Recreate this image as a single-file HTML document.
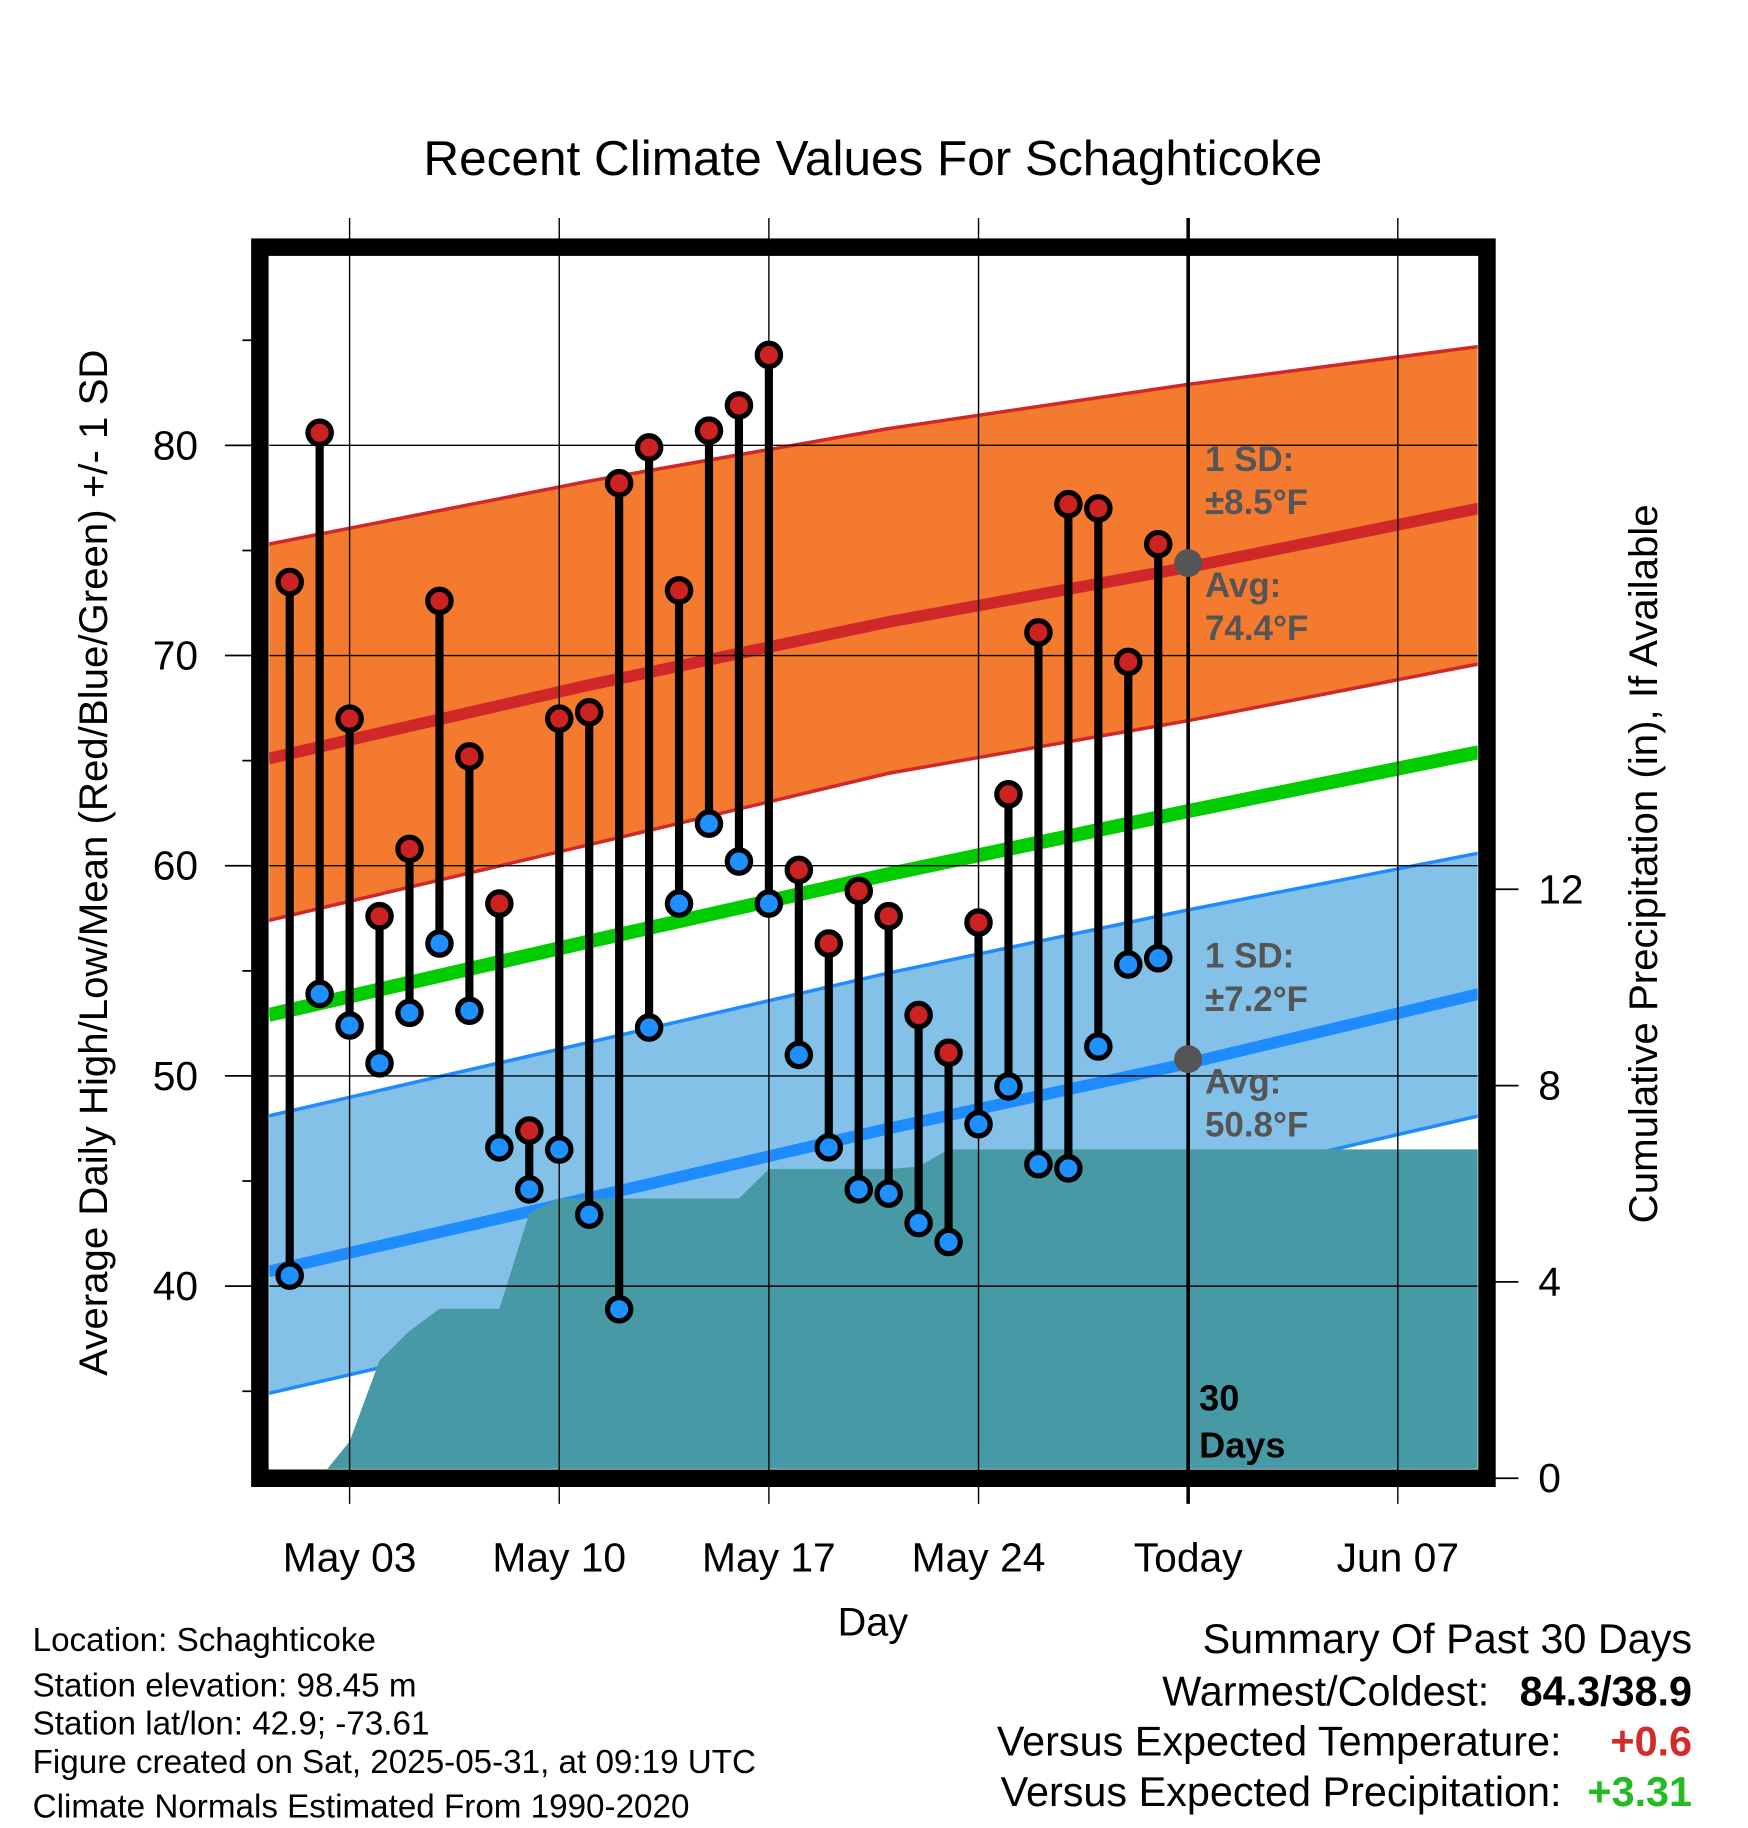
<!DOCTYPE html>
<html><head><meta charset="utf-8"><style>
html,body{margin:0;padding:0;background:#fff}
svg{display:block;font-family:"Liberation Sans",sans-serif}
</style></head><body>
<svg id="chart" width="1748" height="1828" viewBox="0 0 1500 1568" preserveAspectRatio="none" xmlns="http://www.w3.org/2000/svg">
<defs><clipPath id="plotclip"><rect x="231" y="220" width="1037" height="1040"/></clipPath></defs>
<rect x="0" y="0" width="1500" height="1568" fill="#fff"/>
<text x="749" y="150" font-size="42.5" text-anchor="middle">Recent Climate Values For Schaghticoke</text>
<g id="plot" clip-path="url(#plotclip)"></g>
<g id="axes"></g>
<rect x="223" y="212" width="1053" height="1056" fill="none" stroke="#000" stroke-width="15"/>
<g id="marks"></g>
<g font-weight="bold" font-size="30" fill="#555">
<text x="1034" y="404">1 SD:</text>
<text x="1034" y="441">±8.5°F</text>
<text x="1034" y="512">Avg:</text>
<text x="1034" y="549">74.4°F</text>
<text x="1034" y="830">1 SD:</text>
<text x="1034" y="867">±7.2°F</text>
<text x="1034" y="938">Avg:</text>
<text x="1034" y="975">50.8°F</text>
</g>
<text x="1029" y="1210" font-size="31" font-weight="bold">30</text>
<text x="1029" y="1250" font-size="31" font-weight="bold">Days</text>
<text transform="translate(92,740) rotate(-90)" font-size="34.5" text-anchor="middle">Average Daily High/Low/Mean (Red/Blue/Green) +/- 1 SD</text>
<text transform="translate(1422,741) rotate(-90)" font-size="34.5" text-anchor="middle">Cumulative Precipitation (in), If Available</text>
<text x="749" y="1403" font-size="34" text-anchor="middle">Day</text>
<g font-size="28.5">
<text x="28" y="1416">Location: Schaghticoke</text>
<text x="28" y="1455">Station elevation: 98.45 m</text>
<text x="28" y="1488">Station lat/lon: 42.9; -73.61</text>
<text x="28" y="1521">Figure created on Sat, 2025-05-31, at 09:19 UTC</text>
<text x="28" y="1559">Climate Normals Estimated From 1990-2020</text>
</g>
<g font-size="35.5">
<text x="1452" y="1418" text-anchor="end">Summary Of Past 30 Days</text>
<text x="1278" y="1463" text-anchor="end">Warmest/Coldest:</text>
<text x="1452" y="1463" text-anchor="end" font-weight="bold">84.3/38.9</text>
<text x="1340" y="1506" text-anchor="end">Versus Expected Temperature:</text>
<text x="1452" y="1506" text-anchor="end" font-weight="bold" fill="#d42a2a">+0.6</text>
<text x="1340" y="1549" text-anchor="end">Versus Expected Precipitation:</text>
<text x="1452" y="1549" text-anchor="end" font-weight="bold" fill="#22bb22">+3.31</text>
</g>
</svg>
<script>
const highs=[73.5,80.6,67.0,57.6,60.8,72.6,65.2,58.2,47.4,67.0,67.3,78.2,79.9,73.1,80.7,81.9,84.3,59.8,56.3,58.8,57.6,52.9,51.1,57.3,63.4,71.1,77.2,77.0,69.7,75.3];
const lows=[40.5,53.9,52.4,50.6,53.0,56.3,53.1,46.6,44.6,46.5,43.4,38.9,52.3,58.2,62.0,60.2,58.2,51.0,46.6,44.6,44.4,43.0,42.1,47.7,49.5,45.8,45.6,51.4,55.3,55.6];
const precip=[0,0,0.75,2.4,3.0,3.45,3.45,3.45,5.4,5.7,5.7,5.7,5.7,5.7,5.7,5.7,6.3,6.3,6.3,6.3,6.3,6.35,6.7,6.7,6.7,6.7,6.7,6.7,6.7,6.7];
const normDays=[-0.7,10,20,30,39.7];
const hiUpper=[75.3,78.3,80.8,82.9,84.7];
const hiAvg=[65.1,68.6,71.6,74.2,77.0];
const hiLower=[57.4,61.0,64.4,66.9,69.6];
const meanAvg=[52.9,56.4,59.6,62.6,65.4];
const loUpper=[48.1,51.6,54.9,57.9,60.6];
const loAvg=[40.7,44.2,47.5,50.6,53.9];
const loLower=[34.9,38.4,41.7,44.9,48.1];
const xTickDays=[2,9,16,23,30,37];
const xTickLabels=["May 03","May 10","May 17","May 24","Today","Jun 07"];
const yTicks=[40,50,60,70,80];
const y2Ticks=[0,4,8,12];
const todayDay=30, todayHigh=74.4, todayLow=50.8;

const NS="http://www.w3.org/2000/svg";
const X=d=>248.6+d*25.7;
const Y=v=>382+(80-v)*18.03;
const YP=p=>1268-p*42.1;
function mk(parent,tag,attrs){const e=document.createElementNS(NS,tag);for(const k in attrs)e.setAttribute(k,attrs[k]);parent.appendChild(e);return e;}
const plot=document.getElementById('plot'),axes=document.getElementById('axes'),marks=document.getElementById('marks');

function band(up,lo,fill,name){
  let pts=normDays.map((d,i)=>X(d)+','+Y(up[i]));
  pts=pts.concat(normDays.slice().reverse().map((d,i)=>X(d)+','+Y(lo[lo.length-1-i])));
  const p=mk(plot,'polygon',{points:pts.join(' '),fill:fill});
  
  
}
function line(arr,col,w,name){
  const p=mk(plot,'polyline',{points:normDays.map((d,i)=>X(d)+','+Y(arr[i])).join(' '),fill:'none',stroke:col,'stroke-width':w});
  
  
}
band(hiUpper,hiLower,'#f47a30','high-sd-band');
line(hiUpper,'#d02828',3,'high-upper-edge');line(hiLower,'#d02828',3,'high-lower-edge');
line(hiAvg,'#d02828',10,'avg-high-line');
band(loUpper,loLower,'#84c1e8','low-sd-band');
line(loUpper,'#1e8cff',3,'low-upper-edge');line(loLower,'#1e8cff',3,'low-lower-edge');
line(loAvg,'#1e8cff',10,'avg-low-line');
line(meanAvg,'#00cc00',12,'avg-mean-line');
let pp=[X(1)+','+1262];
precip.forEach((v,i)=>pp.push(X(i)+','+YP(v)));
pp.push(1270+','+YP(precip[precip.length-1]));pp.push('1270,1262');
const pa=mk(plot,'polygon',{points:pp.join(' '),fill:'#479aa5'});


yTicks.forEach(v=>{
  const g=mk(plot,'line',{x1:231,x2:1268,y1:Y(v),y2:Y(v),stroke:'#000','stroke-width':1.2});
  
  
  const t=mk(axes,'line',{x1:193,x2:223,y1:Y(v),y2:Y(v),stroke:'#000','stroke-width':1.5});
  
  
  const l=mk(axes,'text',{x:170,y:Y(v)+12,'font-size':35,'text-anchor':'end'});l.textContent=v;
  
  
});
for(let v=35;v<=85;v+=10){
  const t=mk(axes,'line',{x1:208,x2:223,y1:Y(v),y2:Y(v),stroke:'#000','stroke-width':1.5});
  
  
}
y2Ticks.forEach(v=>{
  const t=mk(axes,'line',{x1:1276,x2:1303,y1:YP(v),y2:YP(v),stroke:'#000','stroke-width':1.5});
  
  
  const l=mk(axes,'text',{x:1320,y:YP(v)+12,'font-size':35});l.textContent=v;
  
  
});
xTickDays.forEach((d,i)=>{
  const g=mk(axes,'line',{x1:X(d),x2:X(d),y1:187,y2:1290,stroke:'#000','stroke-width':i===4?3:1.2});
  
  
  const l=mk(axes,'text',{x:X(d),y:1348,'font-size':35,'text-anchor':'middle'});l.textContent=xTickLabels[i];
  
  
});
const tl=mk(marks,'line',{x1:X(todayDay),x2:X(todayDay),y1:220,y2:1260,stroke:'#000','stroke-width':3});


highs.forEach((h,i)=>{
  const s=mk(marks,'line',{x1:X(i),x2:X(i),y1:Y(h),y2:Y(lows[i]),stroke:'#000','stroke-width':7});
  
  
});
highs.forEach((h,i)=>{
  const c=mk(marks,'circle',{cx:X(i),cy:Y(h),r:10,fill:'#cc2222',stroke:'#000','stroke-width':4.5});
  
  
  const c2=mk(marks,'circle',{cx:X(i),cy:Y(lows[i]),r:10,fill:'#1e90ff',stroke:'#000','stroke-width':4.5});
  
  
});
[todayHigh,todayLow].forEach(v=>{
  const c=mk(marks,'circle',{cx:X(todayDay),cy:Y(v),r:12,fill:'#555'});
  
  
});
</script>
</body></html>
